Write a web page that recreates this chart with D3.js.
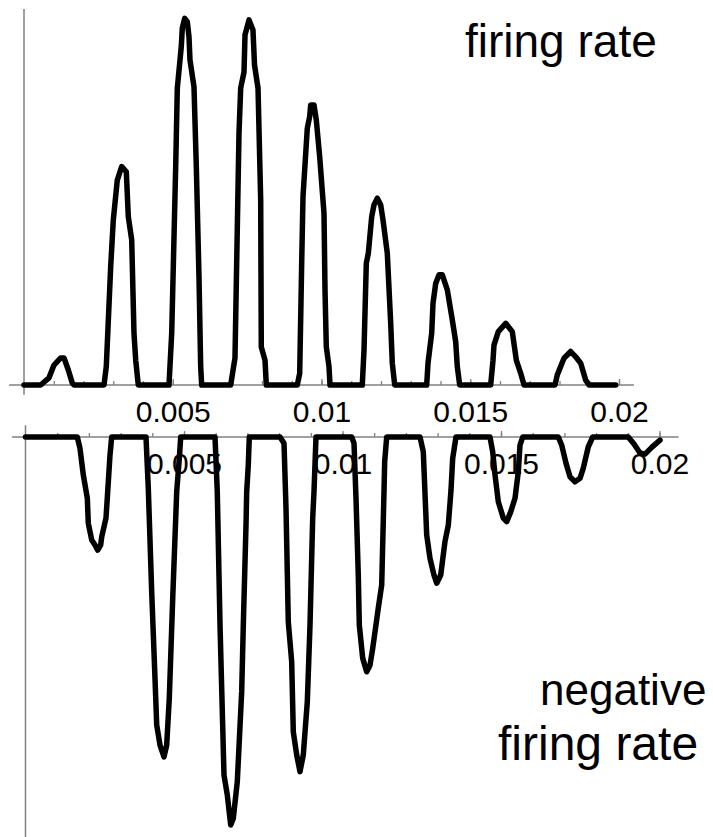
<!DOCTYPE html>
<html>
<head>
<meta charset="utf-8">
<script src="https://cdn.jsdelivr.net/npm/d3@7"></script>
<style>
  body { margin: 0; background: #fff; }
  svg { display: block; }
  .tick text { font-family: "Liberation Sans", Arial, sans-serif; font-size: 30px; fill: #000; }
  .tick line { stroke: #808080; stroke-width: 1.3px; }
  .axisline { stroke: #808080; stroke-width: 1.5px; }
  .curve { fill: none; stroke: #000; stroke-width: 5.5px; stroke-linejoin: round; stroke-linecap: round; }
  .label { font-family: "Liberation Sans", Arial, sans-serif; font-size: 46px; fill: #000; }
</style>
</head>
<body>
<svg id="chart" width="713" height="837"></svg>
<script>
// time in ms, values in arbitrary rate units
var rateT = [0, 0.561, 0.840, 1.008, 1.234, 1.345, 1.489, 1.624, 1.681,
  2.689, 2.766, 2.914, 3.002, 3.136, 3.284, 3.439, 3.506, 3.620, 3.697, 3.755, 3.842,
  4.874, 4.965, 5.099, 5.153, 5.287, 5.321, 5.402, 5.489, 5.546, 5.580, 5.714, 5.792, 5.882, 5.939, 5.973,
  6.948, 7.092, 7.227, 7.284, 7.395, 7.429, 7.563, 7.697, 7.748, 7.866, 7.956, 7.976, 8.101, 8.145,
  9.187, 9.267, 9.334, 9.378, 9.523, 9.603, 9.637, 9.748, 9.825, 9.939, 10.084, 10.118, 10.161, 10.252, 10.286,
  11.371, 11.429, 11.506, 11.573, 11.688, 11.765, 11.876, 11.990, 12.067, 12.212, 12.326, 12.380, 12.461,
  13.536, 13.580, 13.704, 13.748, 13.839, 13.950, 14.061, 14.229, 14.397, 14.511, 14.565, 14.645,
  15.687, 15.765, 15.798, 15.943, 16.192, 16.413, 16.548, 16.696, 16.807,
  17.849, 17.926, 18.151, 18.376, 18.545, 18.713, 18.881, 18.992, 19.889];
var rateV = [0, 0, 1.9, 5.3, 7.2, 7.2, 4.0, 0.5, 0,
  0, 4.9, 31.5, 43.9, 54.5, 58.1, 56.7, 44.8, 38.6, 13.8, 6.6, 0,
  0, 13.8, 58.1, 78.9, 90.0, 94.9, 97.5, 96.6, 92.6, 86.4, 79.3, 58.1, 28.8, 4.9, 0,
  0, 7.2, 67.0, 79.0, 83.2, 93.1, 97.1, 94.4, 85.1, 79.0, 49.2, 10.1, 6.6, 0,
  0, 3.1, 32.4, 50.1, 68.3, 71.4, 74.5, 74.5, 70.5, 60.7, 45.7, 25.3, 10.2, 4.9, 0,
  0, 9.3, 32.4, 35.0, 44.8, 47.9, 49.7, 47.9, 43.9, 35.0, 16.4, 5.8, 0,
  0, 5.8, 13.8, 21.7, 27.0, 29.3, 29.3, 25.3, 17.3, 11.5, 4.9, 0,
  0, 6.6, 10.6, 14.2, 16.4, 14.2, 6.6, 3.1, 0,
  0, 2.7, 7.1, 8.9, 7.5, 5.8, 1.3, 0, 0];

var negT = [0, 1.634, 1.719, 1.823, 1.950, 1.981, 2.088, 2.192, 2.278, 2.372, 2.404, 2.539, 2.580, 2.666, 2.719,
  3.801, 3.874, 3.981, 4.085, 4.139, 4.243, 4.369, 4.454, 4.536, 4.644, 4.770, 4.852, 4.896,
  5.978, 6.050, 6.136, 6.262, 6.366, 6.473, 6.555, 6.681, 6.820, 6.871, 6.956, 6.978, 7.028, 7.060,
  8.028, 8.155, 8.218, 8.290, 8.397, 8.448, 8.555, 8.659, 8.763, 8.890, 8.975, 9.060, 9.101, 9.164,
  10.290, 10.363, 10.426, 10.498, 10.530, 10.637, 10.763, 10.868, 10.953, 11.129, 11.237, 11.309, 11.331, 11.394,
  12.445, 12.549, 12.656, 12.760, 12.886, 12.972, 13.098, 13.233, 13.338, 13.423, 13.476, 13.580,
  14.653, 14.738, 14.811, 14.915, 15.073, 15.180, 15.306, 15.442, 15.546, 15.599, 15.685,
  16.808, 16.915, 17.050, 17.177, 17.334, 17.492, 17.596, 17.754, 17.893,
  19.016, 19.196, 19.385, 19.543, 19.763, 20.016];
var negV = [0, 0, -2.9, -9.7, -15.7, -22.1, -26.4, -27.7, -29.0, -27.7, -25.6, -20.8, -15.7, -4.6, 0,
  0, -13.2, -39.7, -61.9, -73.8, -79.0, -82.0, -79.0, -67.0, -41.4, -14.0, -5.5, 0,
  0, -14.0, -48.2, -86.7, -91.8, -99.5, -97.8, -88.4, -65.3, -48.2, -22.6, -14.0, -7.2, 0,
  0, -1.6, -18.3, -47.4, -57.6, -75.6, -81.5, -85.8, -81.5, -67.9, -48.2, -20.8, -14.0, 0,
  0, -1.6, -15.7, -35.4, -48.2, -56.7, -60.2, -58.5, -54.2, -43.9, -37.9, -14.0, -6.3, 0,
  0, -3.8, -25.1, -31.1, -35.4, -37.5, -35.4, -26.8, -22.6, -13.6, -5.5, 0,
  0, -3.8, -9.7, -16.6, -20.8, -21.7, -19.2, -15.7, -8.9, -2.1, 0,
  0, -2.1, -6.7, -10.2, -11.5, -10.6, -8.0, -2.5, 0,
  0, -1.8, -4.1, -4.4, -2.6, -0.8];

var majorTicks = [5, 10, 15, 20];
var tickLabels = ["0.005", "0.01", "0.015", "0.02"];
var minorTicks = d3.range(1, 21);

var svg = d3.select("#chart");

function panel(g, x, y, tAll, vAll, xExt, yExt) {
  // axes lines (Mathematica style, crossing at origin)
  g.append("line").classed("axisline", true)
    .attr("x1", x(xExt[0])).attr("x2", x(xExt[1]))
    .attr("y1", y(0)).attr("y2", y(0));
  g.append("line").classed("axisline", true)
    .attr("x1", x(0)).attr("x2", x(0))
    .attr("y1", y(yExt[0])).attr("y2", y(yExt[1]));

  g.append("g")
    .attr("transform", "translate(0," + y(0) + ")")
    .call(d3.axisBottom(x).tickValues(minorTicks).tickSize(-4).tickFormat(""))
    .call(a => a.select(".domain").remove());

  g.append("g")
    .attr("transform", "translate(0," + y(0) + ")")
    .call(d3.axisBottom(x).tickValues(majorTicks).tickSize(-6).tickPadding(16)
      .tickFormat((d, i) => tickLabels[i]))
    .call(a => a.select(".domain").remove())
    .call(a => a.selectAll("text").attr("dy", "0.71em"));

  var line = d3.line()
    .x((d, i) => x(tAll[i]))
    .y((d, i) => y(vAll[i]));

  g.append("path")
    .datum(vAll)
    .classed("curve", true)
    .attr("d", line);
}

var x1 = d3.scaleLinear().domain([0, 20]).range([24, 619]);
var y1 = d3.scaleLinear().domain([0, 100]).range([385, 9]);
panel(svg.append("g"), x1, y1, rateT, rateV, [-0.5, 20.5], [100, -2.6]);

var x2 = d3.scaleLinear().domain([0, 20]).range([25.5, 659.5]);
var y2 = d3.scaleLinear().domain([-100, 0]).range([827, 437]);
panel(svg.append("g"), x2, y2, negT, negV, [-0.43, 20.6], [3, -103]);

svg.append("text").classed("label", true)
  .attr("x", 465).attr("y", 57).text("firing rate");

svg.append("text").classed("label", true)
  .style("font-size", "44px")
  .attr("x", 540).attr("y", 705).text("negative");
svg.append("text").classed("label", true)
  .style("font-size", "48px")
  .attr("x", 498).attr("y", 760).text("firing rate");
</script>
</body>
</html>
